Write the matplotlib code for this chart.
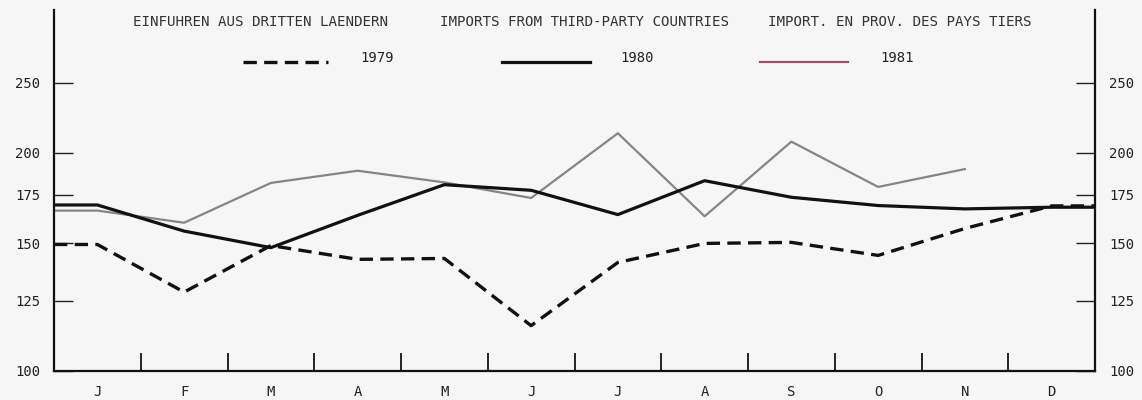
import numpy as np
import matplotlib
matplotlib.use('Agg')
from matplotlib import pyplot as plt
from matplotlib.lines import Line2D
from matplotlib.ticker import FixedLocator, FixedFormatter, NullLocator

# month labels and index values
months = ['J', 'F', 'M', 'A', 'M', 'J', 'J', 'A', 'S', 'O', 'N', 'D']
v1979 = [149.5, 128.5, 149, 142.6, 143, 115.5, 141.2, 150, 150.5, 144.4, 157.3, 169]
v1980 = [169.5, 156, 148, 164, 180.8, 177.6, 164.4, 183.1, 173.7, 169.2, 167.4, 168.3]
v1981 = [166.5, 160.2, 181.8, 189, 182.1, 173.3, 212.9, 163.5, 207.3, 179.5, 190]
yticks = [100, 125, 150, 175, 200, 250]

bg = '#f6f6f6'
fig = plt.figure(figsize=(11.42, 4.0), dpi=100, facecolor=bg)
ax = fig.add_axes([54/1142, 29/400, (1095-54)/1142, (371-10)/400], facecolor=bg)

mono = 'DejaVu Sans Mono'


def extend(vals, right=True):
    # the curves run out flat to the half-month edges of the frame
    x = np.arange(1, len(vals) + 1, dtype=float)
    x = np.r_[0.5, x]
    y = np.r_[vals[0], vals]
    if right:
        x = np.r_[x, 12.5]
        y = np.r_[y, vals[-1]]
    return x, y


x, y = extend(v1981, right=False)
ax.plot(x, y, color='#858585', lw=1.6, zorder=2)
x, y = extend(v1980)
ax.plot(x, y, color='#111111', lw=2.3, zorder=3)
x, y = extend(v1979)
ax.plot(x, y, color='#111111', lw=2.4, dashes=(4, 2.2), zorder=3)

ax.set_yscale('log')
ax.set_ylim(100, 315)
ax.set_xlim(0.5, 12.5)

ax.yaxis.set_major_locator(FixedLocator(yticks))
ax.yaxis.set_major_formatter(FixedFormatter([str(t) for t in yticks]))
ax.yaxis.set_minor_locator(NullLocator())
ax.tick_params(axis='y', which='major', direction='in', length=14, width=1,
               left=True, right=True, labelleft=True, labelright=True,
               labelsize=10, pad=10, colors='#222222')
for lab in ax.get_yticklabels():
    lab.set_family(mono)

ax.set_xticks(np.arange(1, 13))
ax.set_xticklabels(months, family=mono, fontsize=10, color='#222222')
ax.set_xticks(np.arange(1.5, 12, 1), minor=True)
ax.tick_params(axis='x', which='major', length=0, pad=10)
ax.tick_params(axis='x', which='minor', direction='in', length=13, width=1.2)

ax.spines['top'].set_visible(False)
for s in ['left', 'right', 'bottom']:
    ax.spines[s].set_linewidth(1.6)
    ax.spines[s].set_color('#111111')

# header texts
heads = [(133, 'EINFUHREN AUS DRITTEN LAENDERN'),
         (440, 'IMPORTS FROM THIRD-PARTY COUNTRIES'),
         (768, 'IMPORT. EN PROV. DES PAYS TIERS')]
for px, txt in heads:
    fig.text(px/1142, 1 - 22/400, txt, family=mono, fontsize=10.2, color='#333333',
             va='center', ha='left')

# legend row
leg = [(243, 328, 360, '1979', dict(color='#111111', lw=2.4, dashes=(4, 2.2))),
       (502, 590, 620, '1980', dict(color='#111111', lw=2.3)),
       (760, 848, 880, '1981', dict(color='#a0506a', lw=1.6))]
for x0, x1, tx, txt, st in leg:
    fig.add_artist(Line2D([x0/1142, x1/1142], [1 - 62/400]*2, **st))
    fig.text(tx/1142, 1 - 58/400, txt, family=mono, fontsize=10, color='#222222',
             va='center', ha='left')

fig.savefig('out.png', dpi=100, facecolor=bg)
